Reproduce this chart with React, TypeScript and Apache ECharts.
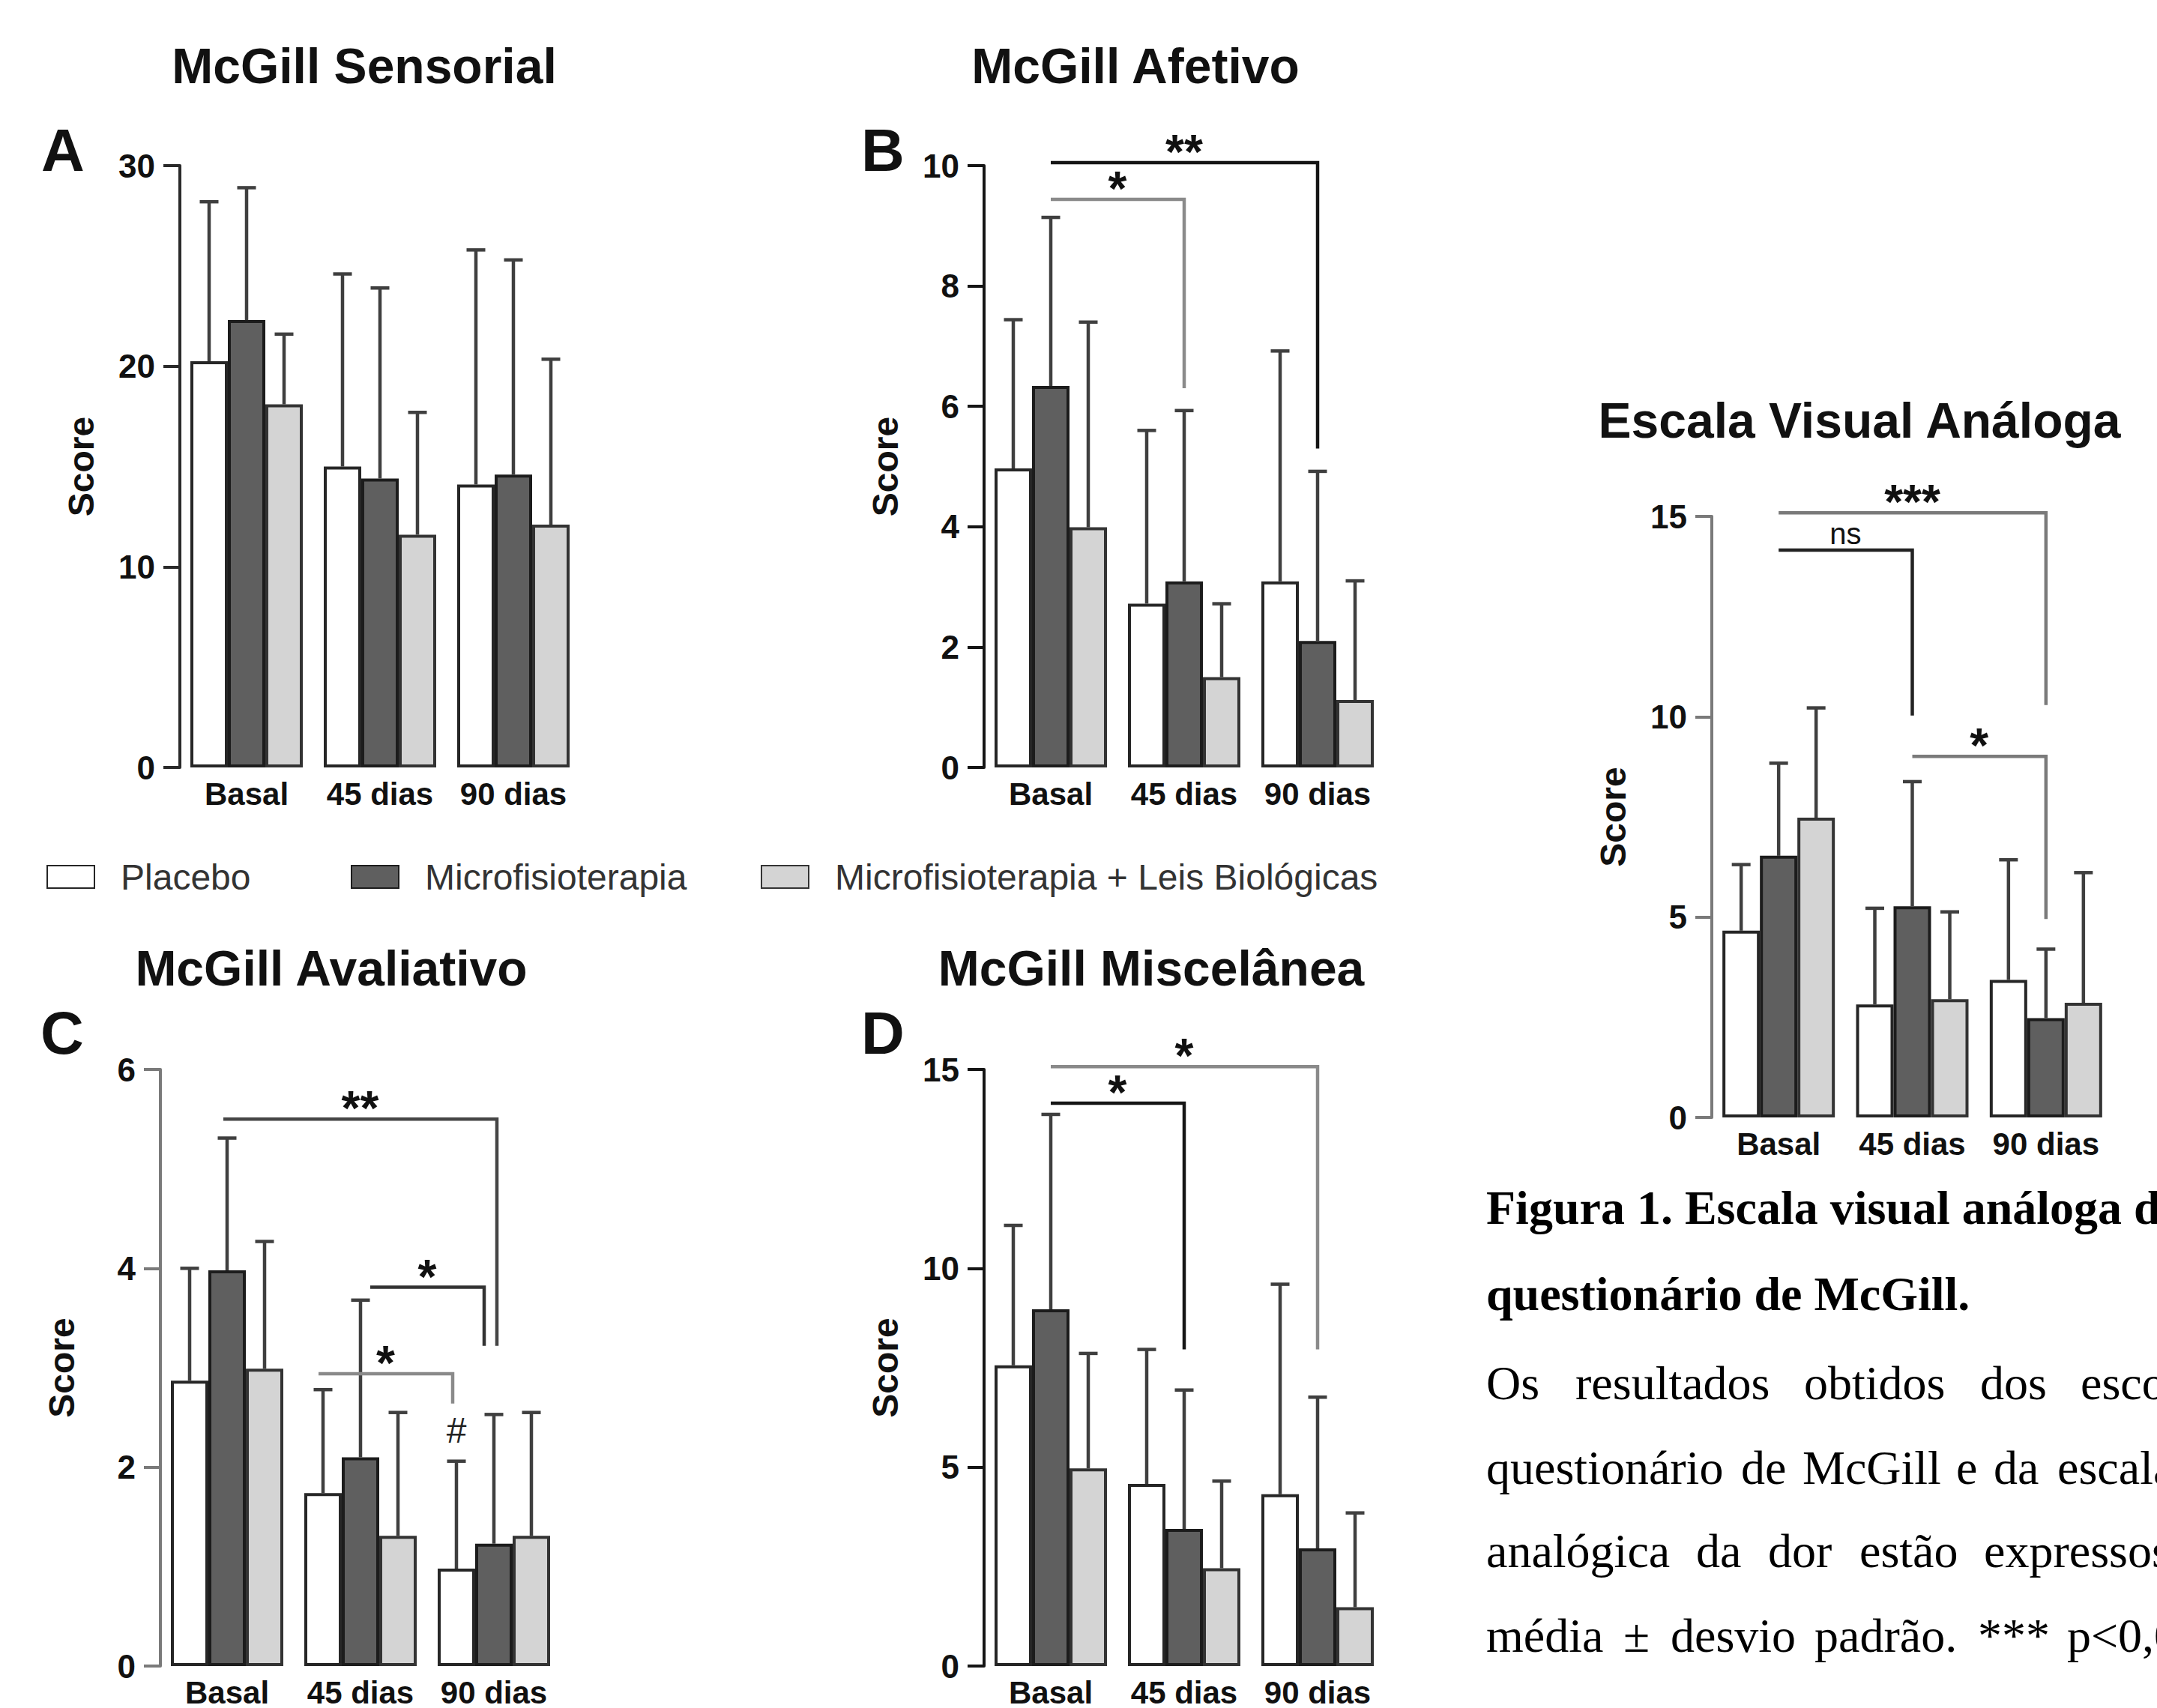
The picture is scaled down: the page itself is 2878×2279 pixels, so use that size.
import React, { useEffect, useRef } from 'react';
import * as echarts from 'echarts';

// ---------------- data ----------------
const categories = ['Basal', '45 dias', '90 dias'];
const groupNames = ['Placebo', 'Microfisioterapia', 'Microfisioterapia + Leis Biológicas'];

// A – McGill Sensorial: means and error-bar tops (mean + SD)
const sensorialPlacebo = [20.25, 15.0, 14.1];
const sensorialMicro = [22.3, 14.4, 14.6];
const sensorialLeis = [18.1, 11.6, 12.1];
const sensorialPlaceboTop = [28.2, 24.6, 25.8];
const sensorialMicroTop = [28.9, 23.9, 25.3];
const sensorialLeisTop = [21.6, 17.7, 20.35];
const sensorialTicks = [0, 10, 20, 30];

// B – McGill Afetivo
const afetivoPlacebo = [4.97, 2.72, 3.09];
const afetivoMicro = [6.34, 3.09, 2.1];
const afetivoLeis = [3.99, 1.5, 1.12];
const afetivoPlaceboTop = [7.44, 5.6, 6.92];
const afetivoMicroTop = [9.14, 5.93, 4.92];
const afetivoLeisTop = [7.4, 2.72, 3.1];
const afetivoTicks = [0, 2, 4, 6, 8, 10];
const afetivoBrackets = [
  { from: [0, 1], to: [2, 1], y: 10.05, leg: 5.3, label: '**' },
  { from: [0, 1], to: [1, 1], y: 9.44, leg: 6.3, label: '*' },
];

// C – McGill Avaliativo
const avaliativoPlacebo = [2.87, 1.74, 0.98];
const avaliativoMicro = [3.98, 2.1, 1.23];
const avaliativoLeis = [2.99, 1.31, 1.31];
const avaliativoPlaceboTop = [4.0, 2.78, 2.06];
const avaliativoMicroTop = [5.31, 3.68, 2.53];
const avaliativoLeisTop = [4.27, 2.55, 2.55];
const avaliativoTicks = [0, 2, 4, 6];
const avaliativoBrackets = [
  { from: [0, 0.9], to: [2, 1.08], y: 5.5, leg: 3.22, label: '**' },
  { from: [1, 1.26], to: [2, 0.74], y: 3.81, leg: 3.22, label: '*' },
  { from: [1, -0.12], to: [2, -0.1], y: 2.94, leg: 2.64, label: '*' },
];
const avaliativoMarks = [{ cat: 2, pos: 0, value: 2.37, label: '#' }];

// D – McGill Miscelânea
const miscelaneaPlacebo = [7.56, 4.58, 4.32];
const miscelaneaMicro = [8.97, 3.45, 2.96];
const miscelaneaLeis = [4.97, 2.46, 1.48];
const miscelaneaPlaceboTop = [11.08, 7.96, 9.6];
const miscelaneaMicroTop = [13.87, 6.94, 6.76];
const miscelaneaLeisTop = [7.86, 4.65, 3.85];
const miscelaneaTicks = [0, 5, 10, 15];
const miscelaneaBrackets = [
  { from: [0, 1], to: [2, 1], y: 15.07, leg: 7.96, label: '*' },
  { from: [0, 1], to: [1, 1], y: 14.15, leg: 7.96, label: '*' },
];

// Escala Visual Análoga
const evaPlacebo = [4.66, 2.82, 3.43];
const evaMicro = [6.53, 5.27, 2.48];
const evaLeis = [7.48, 2.95, 2.86];
const evaPlaceboTop = [6.31, 5.22, 6.43];
const evaMicroTop = [8.84, 8.38, 4.2];
const evaLeisTop = [10.22, 5.13, 6.11];
const evaTicks = [0, 5, 10, 15];
const evaBrackets = [
  { from: [0, 1], to: [2, 1], y: 15.09, leg: 10.29, label: '***' },
  { from: [0, 1], to: [1, 1], y: 14.16, leg: 10.03, label: 'ns' },
  { from: [1, 1], to: [2, 1], y: 9.01, leg: 4.95, label: '*' },
];

// caption (right column) – words as visible in the cropped figure
const captionLine1 = 'Figura 1. Escala visual análoga d';
const captionLine2 = 'questionário de McGill.';
const captionLine3 = ['Os', 'resultados', 'obtidos', 'dos', 'esco'];
const captionLine4 = ['questionário', 'de', 'McGill', 'e', 'da', 'escala'];
const captionLine5 = ['analógica', 'da', 'dor', 'estão', 'expressos'];
const captionLine6 = ['média', '±', 'desvio', 'padrão.', '***', 'p<0,0'];

// ---------------- styles / layout ----------------
const SANS = '"Liberation Sans", Arial, Helvetica, sans-serif';
const SERIF = '"Liberation Serif", "Times New Roman", serif';
const BAR_W = 50;
const CAP = 12.5;
const FILLS = ['#ffffff', '#5f5f5f', '#d4d4d4'];
const BORDERS = ['#262626', '#1c1c1c', '#333333'];
const ERR_COLOR = '#3f3f3f';
const BRACKET_COLORS: Record<string, string[]> = {
  B: ['#151515', '#8a8a8a'],
  C: ['#454545', '#333333', '#8a8a8a'],
  D: ['#8a8a8a', '#151515'],
  E: ['#7a7a7a', '#222222', '#7a7a7a'],
};

const panels = [
  {
    key: 'A', title: 'McGill Sensorial', titlePos: [486, 88], letterPos: [84, 200],
    grid: { left: 240, top: 221, width: 534, height: 803 }, axisColor: '#2a2a2a',
    means: [sensorialPlacebo, sensorialMicro, sensorialLeis],
    tops: [sensorialPlaceboTop, sensorialMicroTop, sensorialLeisTop],
    ticks: sensorialTicks, brackets: [] as any[], marks: [] as any[],
  },
  {
    key: 'B', title: 'McGill Afetivo', titlePos: [1515, 88], letterPos: [1178, 200],
    grid: { left: 1313, top: 221, width: 534, height: 803 }, axisColor: '#151515',
    means: [afetivoPlacebo, afetivoMicro, afetivoLeis],
    tops: [afetivoPlaceboTop, afetivoMicroTop, afetivoLeisTop],
    ticks: afetivoTicks, brackets: afetivoBrackets, marks: [] as any[],
  },
  {
    key: 'C', title: 'McGill Avaliativo', titlePos: [442, 1292], letterPos: [83, 1378],
    grid: { left: 214, top: 1427, width: 534, height: 802 }, axisColor: '#7a7a7a',
    means: [avaliativoPlacebo, avaliativoMicro, avaliativoLeis],
    tops: [avaliativoPlaceboTop, avaliativoMicroTop, avaliativoLeisTop],
    ticks: avaliativoTicks, brackets: avaliativoBrackets, marks: avaliativoMarks,
  },
  {
    key: 'D', title: 'McGill Miscelânea', titlePos: [1536, 1292], letterPos: [1178, 1378],
    grid: { left: 1313, top: 1427, width: 534, height: 802 }, axisColor: '#151515',
    means: [miscelaneaPlacebo, miscelaneaMicro, miscelaneaLeis],
    tops: [miscelaneaPlaceboTop, miscelaneaMicroTop, miscelaneaLeisTop],
    ticks: miscelaneaTicks, brackets: miscelaneaBrackets, marks: [] as any[],
  },
  {
    key: 'E', title: 'Escala Visual Análoga', titlePos: [2481, 561], letterPos: null as any,
    grid: { left: 2284, top: 689, width: 535, height: 802 }, axisColor: '#7a7a7a',
    means: [evaPlacebo, evaMicro, evaLeis],
    tops: [evaPlaceboTop, evaMicroTop, evaLeisTop],
    ticks: evaTicks, brackets: evaBrackets, marks: [] as any[],
  },
];

const legendLeft = [62, 468, 1015];

const CAP_LEFT = 1983;
const CAP_X3 = [1983, 2102, 2407, 2642, 2776];
const CAP_X4 = [1983, 2323, 2405, 2610, 2660, 2745];
const CAP_X5 = [1983, 2263, 2359, 2481, 2647];
const CAP_X6 = [1983, 2166, 2229, 2421, 2639, 2758];
const CAP_BASE = [1632, 1747, 1866, 1979, 2090, 2203];
const CAP_FONT = 64;

function buildOption() {
  const grid: any[] = [];
  const xAxis: any[] = [];
  const yAxis: any[] = [];
  const series: any[] = [];
  const graphic: any[] = [];

  panels.forEach((p, i) => {
    grid.push({ ...p.grid, containLabel: false });
    xAxis.push({
      type: 'category', gridIndex: i, data: categories,
      axisLine: { show: false }, axisTick: { show: false }, splitLine: { show: false },
      axisLabel: { interval: 0, fontSize: 42, fontWeight: 'bold', color: '#111', margin: 14, fontFamily: SANS },
    });
    const t = p.ticks;
    yAxis.push({
      type: 'value', gridIndex: i, min: t[0], max: t[t.length - 1], interval: t[1] - t[0],
      splitLine: { show: false },
      axisLine: { show: true, lineStyle: { color: p.axisColor, width: 4 } },
      axisTick: { show: true, length: 22, lineStyle: { color: p.axisColor, width: 4 } },
      axisLabel: { fontSize: 44, fontWeight: 'bold', color: '#111', margin: 33, fontFamily: SANS },
      name: 'Score', nameLocation: 'middle', nameRotate: 90, nameGap: 108,
      nameTextStyle: { fontSize: 48, fontWeight: 'bold', color: '#111', fontFamily: SANS },
    });

    // bars
    p.means.forEach((arr, s) => {
      series.push({
        type: 'bar', name: groupNames[s], xAxisIndex: i, yAxisIndex: i, data: arr,
        barWidth: BAR_W, barGap: '0%', z: 2, silent: true,
        itemStyle: { color: FILLS[s], borderColor: BORDERS[s], borderWidth: 4 },
      });
    });

    // error bars (upper whisker)
    const errData: number[][] = [];
    p.means.forEach((arr, s) => arr.forEach((m, c) => errData.push([c, s, m, p.tops[s][c]])));
    series.push({
      type: 'custom', xAxisIndex: i, yAxisIndex: i, z: 4, silent: true,
      data: errData, encode: { x: 0, y: [2, 3] },
      renderItem: (params: any, api: any) => {
        const c = api.value(0);
        const s = api.value(1);
        const base = api.coord([c, api.value(2)]);
        const top = api.coord([c, api.value(3)]);
        const x = base[0] + (s - 1) * BAR_W;
        const st = { stroke: ERR_COLOR, lineWidth: 4.5 };
        return {
          type: 'group',
          children: [
            { type: 'line', shape: { x1: x, y1: base[1], x2: x, y2: top[1] }, style: st },
            { type: 'line', shape: { x1: x - CAP, y1: top[1], x2: x + CAP, y2: top[1] }, style: st },
          ],
        };
      },
    });

    // significance brackets
    if (p.brackets.length) {
      const cols = BRACKET_COLORS[p.key];
      series.push({
        type: 'custom', xAxisIndex: i, yAxisIndex: i, z: 5, silent: true, clip: false,
        data: p.brackets.map((b: any) => [b.from[0], b.to[0], b.y, b.leg]),
        encode: { x: [0, 1], y: [2, 3] },
        renderItem: (params: any, api: any) => {
          const b = p.brackets[params.dataIndex];
          const p1 = api.coord([b.from[0], b.y]);
          const p2 = api.coord([b.to[0], b.y]);
          const legY = api.coord([b.to[0], b.leg])[1];
          const x1 = p1[0] + (b.from[1] - 1) * BAR_W;
          const x2 = p2[0] + (b.to[1] - 1) * BAR_W;
          const isNs = b.label === 'ns';
          return {
            type: 'group',
            children: [
              {
                type: 'polyline',
                shape: { points: [[x1, p1[1]], [x2, p1[1]], [x2, legY]] },
                style: { stroke: cols[params.dataIndex], lineWidth: 4.5, fill: null },
              },
              {
                type: 'text',
                style: {
                  text: b.label, x: (x1 + x2) / 2, y: p1[1] - (isNs ? 22 : 14),
                  align: 'center', verticalAlign: 'middle', fill: '#111',
                  font: isNs ? `40px ${SANS}` : `bold 64px ${SANS}`,
                },
              },
            ],
          };
        },
      });
    }

    // extra marks (#)
    if (p.marks.length) {
      series.push({
        type: 'custom', xAxisIndex: i, yAxisIndex: i, z: 5, silent: true, clip: false,
        data: p.marks.map((m: any) => [m.cat, m.value]),
        encode: { x: 0, y: 1 },
        renderItem: (params: any, api: any) => {
          const m = p.marks[params.dataIndex];
          const pt = api.coord([m.cat, m.value]);
          return {
            type: 'text',
            style: {
              text: m.label, x: pt[0] + (m.pos - 1) * BAR_W, y: pt[1],
              align: 'center', verticalAlign: 'middle', fill: '#222', font: `48px ${SANS}`,
            },
          };
        },
      });
    }

    graphic.push({
      type: 'text', x: p.titlePos[0], y: p.titlePos[1], silent: true,
      style: { text: p.title, align: 'center', verticalAlign: 'middle', fill: '#111', font: `bold 66px ${SANS}` },
    });
    if (p.letterPos) {
      graphic.push({
        type: 'text', x: p.letterPos[0], y: p.letterPos[1], silent: true,
        style: { text: p.key, align: 'center', verticalAlign: 'middle', fill: '#111', font: `bold 80px ${SANS}` },
      });
    }
  });

  // caption
  const capText = (text: string, x: number, line: number, bold: boolean) => ({
    type: 'text', x, y: CAP_BASE[line] - 21, silent: true,
    style: {
      text, align: 'left', verticalAlign: 'middle', fill: '#000',
      font: `${bold ? 'bold ' : ''}${CAP_FONT}px ${SERIF}`,
    },
  });
  graphic.push(capText(captionLine1, CAP_LEFT, 0, true));
  graphic.push(capText(captionLine2, CAP_LEFT, 1, true));
  captionLine3.forEach((w, k) => graphic.push(capText(w, CAP_X3[k], 2, false)));
  captionLine4.forEach((w, k) => graphic.push(capText(w, CAP_X4[k], 3, false)));
  captionLine5.forEach((w, k) => graphic.push(capText(w, CAP_X5[k], 4, false)));
  captionLine6.forEach((w, k) => graphic.push(capText(w, CAP_X6[k], 5, false)));

  const legend = groupNames.map((name, k) => ({
    data: [name], left: legendLeft[k], top: 1146, padding: 0,
    icon: 'rect', itemWidth: 63, itemHeight: 30, selectedMode: false,
    textStyle: { fontSize: 48, color: '#333', fontFamily: SANS, padding: [0, 0, 0, 30] },
  }));

  return {
    animation: false,
    backgroundColor: '#ffffff',
    textStyle: { fontFamily: SANS },
    grid, xAxis, yAxis, series, graphic, legend,
  };
}

export default function App() {
  const ref = useRef<HTMLDivElement>(null);
  useEffect(() => {
    if (!ref.current) return;
    const chart = echarts.init(ref.current, null, { renderer: 'svg' });
    chart.setOption(buildOption() as any);
    return () => chart.dispose();
  }, []);
  return (
    <div
      ref={ref}
      style={{ position: 'absolute', left: 0, top: 0, width: 2878, height: 2279, background: '#fff' }}
    />
  );
}
